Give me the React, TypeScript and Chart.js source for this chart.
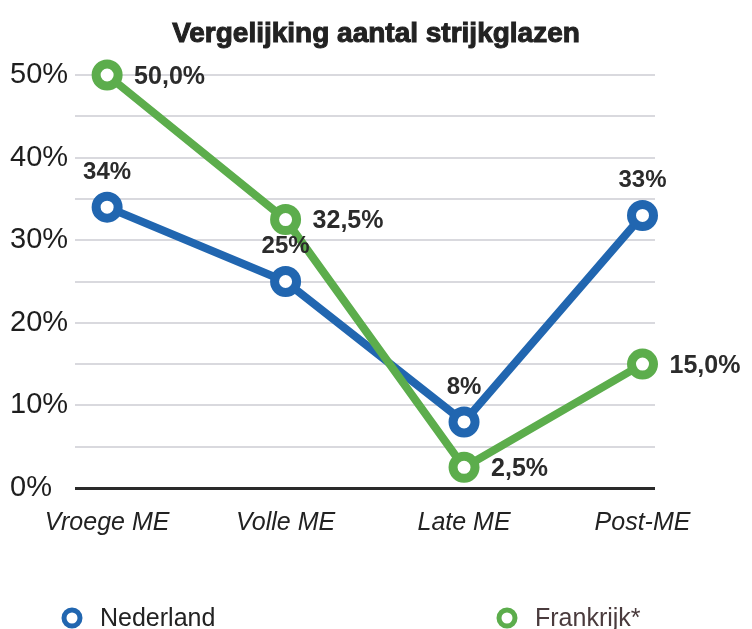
import React, { useEffect, useRef } from "react";
import { Chart, registerables } from "chart.js";

Chart.register(...registerables);

const categories = ["Vroege ME", "Volle ME", "Late ME", "Post-ME"];
const nederland = [34, 25, 8, 33];
const frankrijk = [50, 32.5, 2.5, 15];
const nederlandLabels = ["34%", "25%", "8%", "33%"];
const frankrijkLabels = ["50,0%", "32,5%", "2,5%", "15,0%"];
const seriesNames = ["Nederland", "Frankrijk*"];
const yTicks = [0, 5, 10, 15, 20, 25, 30, 35, 40, 45, 50];
const chartTitle = "Vergelijking aantal strijkglazen";

const BLUE = "#2166b0";
const GREEN = "#5cad4c";
const FONT = "'Liberation Sans', Arial, Helvetica, sans-serif";

const titlePlugin = {
  id: "customTitle",
  afterDraw(chart: any) {
    const ctx = chart.ctx;
    ctx.save();
    ctx.font = `bold 28px ${FONT}`;
    ctx.fillStyle = "#222";
    ctx.strokeStyle = "#222";
    ctx.lineWidth = 1;
    ctx.textAlign = "center";
    ctx.textBaseline = "middle";
    ctx.fillText(chartTitle, 376, 34);
    ctx.strokeText(chartTitle, 376, 34);
    ctx.restore();
  },
};

const labelPlugin = {
  id: "valueLabels",
  afterDatasetsDraw(chart: any) {
    const ctx = chart.ctx;
    ctx.save();
    ctx.fillStyle = "#2b2b2b";
    ctx.textBaseline = "middle";
    const m0 = chart.getDatasetMeta(0);
    ctx.font = `bold 24px ${FONT}`;
    ctx.textAlign = "center";
    m0.data.forEach((p: any, i: number) => {
      ctx.fillText(nederlandLabels[i], p.x, p.y - 35);
    });
    const m1 = chart.getDatasetMeta(1);
    ctx.font = `bold 25px ${FONT}`;
    ctx.textAlign = "left";
    m1.data.forEach((p: any, i: number) => {
      ctx.fillText(frankrijkLabels[i], p.x + 27, p.y + 2);
    });
    ctx.restore();
  },
};

const legendPlugin = {
  id: "customLegend",
  afterDraw(chart: any) {
    const ctx = chart.ctx;
    ctx.save();
    const items = [
      { x: 72, color: BLUE, text: seriesNames[0], textColor: "#222" },
      { x: 507, color: GREEN, text: seriesNames[1], textColor: "#4a3b3d" },
    ];
    const y = 618;
    items.forEach((it) => {
      ctx.beginPath();
      ctx.arc(it.x, y, 8, 0, Math.PI * 2);
      ctx.lineWidth = 5;
      ctx.strokeStyle = it.color;
      ctx.fillStyle = "#fff";
      ctx.fill();
      ctx.stroke();
      ctx.fillStyle = it.textColor;
      ctx.font = `25px ${FONT}`;
      ctx.textAlign = "left";
      ctx.textBaseline = "middle";
      ctx.fillText(it.text, it.x + 28, y + 1);
    });
    ctx.restore();
  },
};

export default function App() {
  const ref = useRef<HTMLCanvasElement>(null);
  useEffect(() => {
    document.body.style.margin = "0";
    const toPts = (arr: number[]) => arr.map((v, i) => ({ x: i, y: v }));
    const common = {
      backgroundColor: "#ffffff",
      borderWidth: 8,
      pointRadius: 11,
      pointBorderWidth: 9,
      pointBackgroundColor: "#ffffff",
      clip: false as any,
    };
    const chart = new Chart(ref.current!, {
      type: "line",
      data: {
        datasets: [
          {
            ...common,
            label: seriesNames[0],
            data: toPts(nederland),
            borderColor: BLUE,
            pointBorderColor: BLUE,
            order: 2,
          },
          {
            ...common,
            label: seriesNames[1],
            data: toPts(frankrijk),
            borderColor: GREEN,
            pointBorderColor: GREEN,
            order: 1,
          },
        ],
      },
      options: {
        animation: false,
        responsive: true,
        maintainAspectRatio: false,
        layout: { padding: { left: 10, right: 97, top: 75, bottom: 0 } },
        plugins: {
          legend: { display: false },
          tooltip: { enabled: false },
          title: { display: false },
        },
        scales: {
          x: {
            type: "linear",
            min: -0.18,
            max: 3.07,
            afterBuildTicks: (axis: any) => {
              axis.ticks = categories.map((_, i) => ({ value: i }));
            },
            afterFit: (axis: any) => {
              axis.height = 141;
            },
            grid: { display: false, drawTicks: false },
            border: { display: false },
            ticks: {
              autoSkip: false,
              maxRotation: 0,
              padding: 20,
              color: "#222",
              font: { family: FONT, size: 25, style: "italic" },
              callback: (v: any) => categories[v as number] ?? "",
            },
          },
          y: {
            min: 0,
            max: 50,
            afterBuildTicks: (axis: any) => {
              axis.ticks = yTicks.map((v) => ({ value: v }));
            },
            afterFit: (axis: any) => {
              axis.width = 65;
            },
            border: { display: false },
            grid: {
              drawTicks: false,
              color: (c: any) => (c.tick && c.tick.value === 0 ? "#2a2a2a" : "#d9d9de"),
              lineWidth: (c: any) => (c.tick && c.tick.value === 0 ? 3 : 2),
            },
            ticks: {
              crossAlign: "far",
              padding: 0,
              color: "#1e1e1e",
              font: { family: FONT, size: 29 },
              callback: (v: any) => ((v as number) % 10 === 0 ? `${v}%` : ""),
            },
          },
        },
      },
      plugins: [labelPlugin, legendPlugin, titlePlugin],
    });
    return () => chart.destroy();
  }, []);
  return (
    <div style={{ position: "absolute", left: 0, top: 0, width: 752, height: 629 }}>
      <canvas ref={ref} />
    </div>
  );
}
